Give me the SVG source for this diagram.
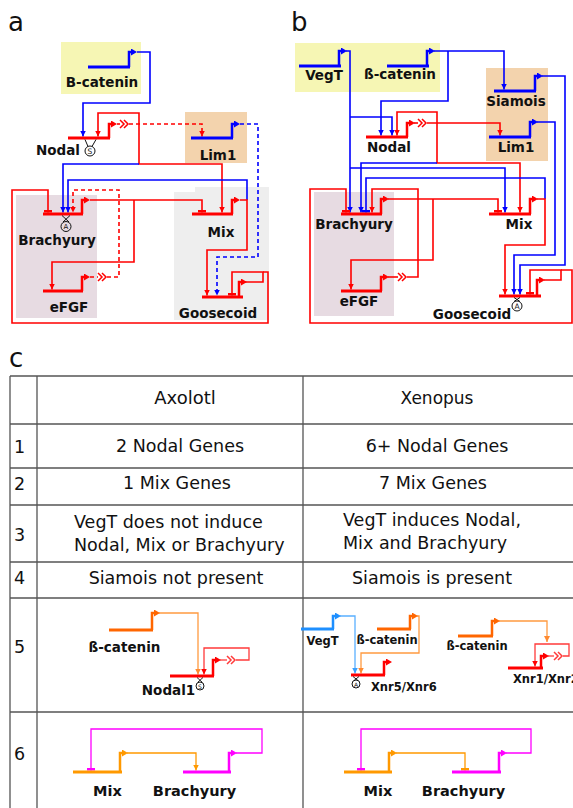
<svg xmlns="http://www.w3.org/2000/svg" width="573" height="808" viewBox="0 0 573 808">
<style>
.bar{fill:none;stroke-width:3}
.pr{fill:none;stroke-width:2.5}
.ln{fill:none;stroke-width:1.6}
.th{fill:none;stroke-width:1.3}
.dash{stroke-dasharray:4 3}
.r{stroke:#ff0000}.b{stroke:#0000ff}.o{stroke:#ff6600}.lo{stroke:#ff9a40}.lb{stroke:#1e8fff}.llb{stroke:#5ab0ff}.y{stroke:#ff9900}.m{stroke:#ff00ff}.lr{stroke:#ff3a3a}
.lbl{font-family:"DejaVu Sans","Liberation Sans",sans-serif;font-weight:bold;font-size:13.5px;text-anchor:middle;fill:#111}
.sm{font-size:11.5px}
.big{font-size:14.5px}
.t{font-family:"DejaVu Sans","Liberation Sans",sans-serif;font-size:17.5px;fill:#111}
.mid{text-anchor:middle}
.pl{font-family:"DejaVu Sans","Liberation Sans",sans-serif;font-size:26px;fill:#111}
.grid{stroke:#555;stroke-width:1.3;fill:none}
.ring{fill:none;stroke:#111;stroke-width:1}
.tiny{font-family:"DejaVu Sans",sans-serif;font-size:7.5px;text-anchor:middle;fill:#111}
.chev{fill:none;stroke-width:1.5}
</style>
<defs>
<marker id="pa-r" viewBox="0 0 6 7" refX="0" refY="3.5" markerWidth="6" markerHeight="7" markerUnits="userSpaceOnUse" orient="auto"><path d="M0,0L6,3.5L0,7z" fill="#ff0000"/></marker>
<marker id="pa-b" viewBox="0 0 6 7" refX="0" refY="3.5" markerWidth="6" markerHeight="7" markerUnits="userSpaceOnUse" orient="auto"><path d="M0,0L6,3.5L0,7z" fill="#0000ff"/></marker>
<marker id="pa-o" viewBox="0 0 6 7" refX="0" refY="3.5" markerWidth="6" markerHeight="7" markerUnits="userSpaceOnUse" orient="auto"><path d="M0,0L6,3.5L0,7z" fill="#ff6600"/></marker>
<marker id="pa-lb" viewBox="0 0 6 7" refX="0" refY="3.5" markerWidth="6" markerHeight="7" markerUnits="userSpaceOnUse" orient="auto"><path d="M0,0L6,3.5L0,7z" fill="#1e8fff"/></marker>
<marker id="pa-y" viewBox="0 0 6 7" refX="0" refY="3.5" markerWidth="6" markerHeight="7" markerUnits="userSpaceOnUse" orient="auto"><path d="M0,0L6,3.5L0,7z" fill="#ff9900"/></marker>
<marker id="pa-m" viewBox="0 0 6 7" refX="0" refY="3.5" markerWidth="6" markerHeight="7" markerUnits="userSpaceOnUse" orient="auto"><path d="M0,0L6,3.5L0,7z" fill="#ff00ff"/></marker>
<marker id="ar-r" viewBox="0 0 6 6" refX="6" refY="3" markerWidth="6" markerHeight="6" markerUnits="userSpaceOnUse" orient="auto-start-reverse"><path d="M0,0L6,3L0,6z" fill="#ff0000"/></marker>
<marker id="ar-b" viewBox="0 0 6 6" refX="6" refY="3" markerWidth="6" markerHeight="6" markerUnits="userSpaceOnUse" orient="auto"><path d="M0,0L6,3L0,6z" fill="#0000ff"/></marker>
<marker id="ar-lo" viewBox="0 0 6 6" refX="6" refY="3" markerWidth="6" markerHeight="6" markerUnits="userSpaceOnUse" orient="auto"><path d="M0,0L6,3L0,6z" fill="#ff8a30"/></marker>
<marker id="ar-lb" viewBox="0 0 6 6" refX="6" refY="3" markerWidth="6" markerHeight="6" markerUnits="userSpaceOnUse" orient="auto"><path d="M0,0L6,3L0,6z" fill="#3aa0ff"/></marker>
<marker id="ar-y" viewBox="0 0 6 6" refX="6" refY="3" markerWidth="6" markerHeight="6" markerUnits="userSpaceOnUse" orient="auto"><path d="M0,0L6,3L0,6z" fill="#ff9900"/></marker>
<marker id="tb-r" viewBox="0 0 3 8" refX="3" refY="4" markerWidth="3" markerHeight="8" markerUnits="userSpaceOnUse" orient="auto"><rect width="3" height="8" fill="#ff0000"/></marker>
<marker id="tb-b" viewBox="0 0 3 8" refX="3" refY="4" markerWidth="3" markerHeight="8" markerUnits="userSpaceOnUse" orient="auto"><rect width="3" height="8" fill="#0000ff"/></marker>
<marker id="tb-y" viewBox="0 0 3 8" refX="3" refY="4" markerWidth="3" markerHeight="8" markerUnits="userSpaceOnUse" orient="auto"><rect width="3" height="8" fill="#ff9900"/></marker>
<marker id="tb-m" viewBox="0 0 3 8" refX="3" refY="4" markerWidth="3" markerHeight="8" markerUnits="userSpaceOnUse" orient="auto"><rect width="3" height="8" fill="#ff00ff"/></marker>
<path id="chv" d="M0,-4L4,0L0,4M4,-4L8,0L4,4"/>
</defs>

<!-- panel letters -->
<text class="pl" x="8" y="31">a</text>
<text class="pl" x="291" y="31">b</text>
<text class="pl" x="9" y="367">c</text>

<!-- backgrounds -->
<g id="bg">
<rect x="61" y="42" width="80" height="52" fill="#f6f6b4"/>
<rect x="185" y="112" width="62" height="51" fill="#f3d3ad"/>
<rect x="174" y="192" width="95" height="128" fill="#eeeeee"/>
<rect x="195" y="187" width="74" height="10" fill="#eeeeee"/>
<rect x="16" y="195" width="81" height="123" fill="#e7dbe2"/>
<rect x="295" y="43" width="145" height="49" fill="#f6f6b4"/>
<rect x="486" y="68" width="62" height="93" fill="#f3d3ad"/>
<rect x="314" y="192" width="80" height="124" fill="#e7dbe2"/>
</g>

<!-- connectors -->
<g id="connectors">
<!-- panel a -->
<path class="ln b" d="M137,52H150V103H83V136.5" marker-end="url(#ar-b)"/>
<path class="ln r" d="M117,124H120"/>
<use href="#chv" class="chev r" x="120" y="124"/>
<path class="ln r dash" d="M129,124H202V136.5" marker-end="url(#ar-r)"/>
<path class="ln r" d="M98,136.5V113H139V164H222V212.5" marker-start="url(#ar-r)" marker-end="url(#ar-r)"/>
<path class="ln b" d="M139,164H63V212.5" marker-end="url(#ar-b)"/>
<path class="ln b" d="M247,200V180H68V212.5" marker-end="url(#ar-b)"/>
<path class="ln b dash" d="M240,124H258V257H217V295.5" marker-end="url(#ar-b)"/>
<path class="ln r" d="M90,200H202V212.5" marker-end="url(#tb-r)"/>
<path class="ln r" d="M134,200V262H52V289.5" marker-end="url(#ar-r)"/>
<path class="ln r" d="M240,200H247V250H207V295.5" marker-end="url(#ar-r)"/>
<path class="ln r dash" d="M90,277H98"/>
<use href="#chv" class="chev r" x="98" y="277"/>
<path class="ln r dash" d="M107,277H119V190H73V212.5" marker-end="url(#ar-r)"/>
<path class="ln r" d="M245,282H263V272H232V295.5" marker-end="url(#tb-r)"/>
<path class="ln r" d="M263,272H268V323H12V190H48V212.5" marker-end="url(#tb-r)"/>
<!-- panel b -->
<path class="ln b" d="M346,51H350V212.5" marker-end="url(#ar-b)"/>
<path class="ln b" d="M350,117H392V135.5" marker-end="url(#ar-b)"/>
<path class="ln b" d="M350,168H505V212.5" marker-end="url(#ar-b)"/>
<path class="ln b" d="M434,51H504V89.5" marker-end="url(#ar-b)"/>
<path class="ln b" d="M448,51V101H381V135.5" marker-end="url(#ar-b)"/>
<path class="ln b" d="M542,76H565V265H520V294.5" marker-end="url(#ar-b)"/>
<path class="ln b" d="M537,122H555V255H514V294.5" marker-end="url(#ar-b)"/>
<path class="ln r" d="M414,123H418"/>
<use href="#chv" class="chev r" x="418" y="123"/>
<path class="ln r" d="M427,123H500V135.5" marker-end="url(#ar-r)"/>
<path class="ln r" d="M397,135.5V112H437V163H520V212.5" marker-start="url(#ar-r)" marker-end="url(#ar-r)"/>
<path class="ln b" d="M437,163H361V212.5" marker-end="url(#ar-b)"/>
<path class="ln b" d="M545,199V178H366V212.5" marker-end="url(#tb-b)"/>
<path class="ln r" d="M388,199H498V212.5" marker-end="url(#tb-r)"/>
<path class="ln r" d="M433,199V260H351V289.5" marker-end="url(#ar-r)"/>
<path class="ln r" d="M388,277H398"/>
<use href="#chv" class="chev r" x="398" y="277"/>
<path class="ln r" d="M407,277H418V189H372V212.5" marker-end="url(#ar-r)"/>
<path class="ln r" d="M537,199H545V245H505V294.5" marker-end="url(#ar-r)"/>
<path class="ln r" d="M544,280H561V270H530V294.5" marker-end="url(#tb-r)"/>
<path class="ln r" d="M561,270H572V323H310V189H346V212.5" marker-end="url(#tb-r)"/>
<!-- row 5 -->
<path class="th lo" d="M159,613H198V674.5" marker-end="url(#ar-lo)"/>
<path class="th lr" d="M220,660H227"/>
<use href="#chv" class="chev lr" x="227" y="660"/>
<path class="th lr" d="M236,660H249V648H204V674.5" marker-end="url(#ar-r)"/>
<path class="th llb" d="M340,616H355V673.5" marker-end="url(#ar-lb)"/>
<path class="th lo" d="M417,616H419V653H361V673.5" marker-end="url(#ar-lo)"/>
<path class="th lo" d="M499,621H547V642" marker-end="url(#ar-lo)"/>
<path class="th lr" d="M548,656H554"/>
<use href="#chv" class="chev lr" x="554" y="656"/>
<path class="th lr" d="M563,656H569V644H535V666.5" marker-end="url(#ar-r)"/>
<!-- row 6 -->
<path class="th y" d="M127,753H196V770.5" marker-end="url(#ar-y)"/>
<path class="th m" d="M236,753H262V729H91V770.5" marker-end="url(#tb-m)"/>
<path class="th y" d="M396,753H465V770.5" marker-end="url(#tb-y)"/>
<path class="th m" d="M506,753H531V729H361V770.5" marker-end="url(#tb-m)"/>
</g>

<!-- panel a nodes -->
<g id="a-bcatenin">
<path class="bar b" d="M88,67H130"/>
<path class="pr b" d="M129,67V52H131" marker-end="url(#pa-b)"/>
<text class="lbl" x="102" y="87">B-catenin</text>
</g>
<g id="a-nodal">
<path class="bar r" d="M68,138H110"/>
<path class="pr r" d="M109,138V124H111" marker-end="url(#pa-r)"/>
<path d="M85,139.5L88,146.5M96,139.5L92,146.5" stroke="#111" stroke-width="1"/>
<circle class="ring" cx="90" cy="151" r="5"/>
<text class="tiny" x="90" y="154">S</text>
<text class="lbl" x="80" y="155" style="text-anchor:end">Nodal</text>
</g>
<g id="a-lim1">
<path class="bar b" d="M191,138H233"/>
<path class="pr b" d="M232,138V124H234" marker-end="url(#pa-b)"/>
<text class="lbl" x="218" y="160">Lim1</text>
</g>
<g id="a-brachyury">
<path class="bar r" d="M43,214H83"/>
<path class="pr r" d="M82,214V200H84" marker-end="url(#pa-r)"/>
<path d="M62,215.5L69,222M70,215.5L63,222" stroke="#111" stroke-width="1"/>
<circle class="ring" cx="66" cy="226.5" r="5"/>
<text class="tiny" x="66" y="229.3" style="font-size:7px">A</text>
<text class="lbl" x="57" y="245">Brachyury</text>
</g>
<g id="a-mix">
<path class="bar r" d="M192,214H233"/>
<path class="pr r" d="M232,214V200H234" marker-end="url(#pa-r)"/>
<text class="lbl" x="221" y="237">Mix</text>
</g>
<g id="a-efgf">
<path class="bar r" d="M43,291H83"/>
<path class="pr r" d="M82,291V277H84" marker-end="url(#pa-r)"/>
<text class="lbl" x="69" y="312">eFGF</text>
</g>
<g id="a-goosecoid">
<path class="bar r" d="M202,297H243"/>
<path class="pr r" d="M239,297V282H241" marker-end="url(#pa-r)"/>
<text class="lbl" x="218" y="318">Goosecoid</text>
</g>

<!-- panel b nodes -->
<g id="b-vegt">
<path class="bar b" d="M299,66H341"/>
<path class="pr b" d="M339,66V51H341" marker-end="url(#pa-b)"/>
<text class="lbl" x="324" y="80">VegT</text>
</g>
<g id="b-bcatenin">
<path class="bar b" d="M387,66H429"/>
<path class="pr b" d="M427,66V51H429" marker-end="url(#pa-b)"/>
<text class="lbl" x="400" y="79">ß-catenin</text>
</g>
<g id="b-siamois">
<path class="bar b" d="M494,91H536"/>
<path class="pr b" d="M535,91V76H537" marker-end="url(#pa-b)"/>
<text class="lbl" x="516" y="106">Siamois</text>
</g>
<g id="b-nodal">
<path class="bar r" d="M366,137H408"/>
<path class="pr r" d="M407,137V123H409" marker-end="url(#pa-r)"/>
<text class="lbl" x="389" y="152">Nodal</text>
</g>
<g id="b-lim1">
<path class="bar b" d="M489,137H531"/>
<path class="pr b" d="M530,137V122H532" marker-end="url(#pa-b)"/>
<text class="lbl" x="516" y="152">Lim1</text>
</g>
<g id="b-brachyury">
<path class="bar r" d="M341,214H382"/>
<path class="pr r" d="M381,214V199H383" marker-end="url(#pa-r)"/>
<text class="lbl" x="354" y="229">Brachyury</text>
</g>
<g id="b-mix">
<path class="bar r" d="M489,214H531"/>
<path class="pr r" d="M530,214V199H532" marker-end="url(#pa-r)"/>
<text class="lbl" x="519" y="229">Mix</text>
</g>
<g id="b-efgf">
<path class="bar r" d="M341,291H382"/>
<path class="pr r" d="M381,291V277H383" marker-end="url(#pa-r)"/>
<text class="lbl" x="359" y="306">eFGF</text>
</g>
<g id="b-goosecoid">
<path class="bar r" d="M499,296H541"/>
<path class="pr r" d="M537,296V280H539" marker-end="url(#pa-r)"/>
<path d="M514,297.5L520,301.5M520,297.5L514,301.5" stroke="#111" stroke-width="1"/>
<circle class="ring" cx="517" cy="306" r="5"/>
<text class="tiny" x="517" y="309">A</text>
<text class="lbl" x="472" y="319">Goosecoid</text>
</g>

<!-- table -->
<g id="table">
<path class="grid" d="M10,376V808M37,376V808M303,376V808M10,376H573M10,424H573M10,468H573M10,505H573M10,562H573M10,598H573M10,712H573"/>
<text class="t mid" x="185" y="404" style="font-size:18px">Axolotl</text>
<text class="t mid" x="437" y="404" style="font-size:17px">Xenopus</text>
<text class="t" x="14" y="453">1</text>
<text class="t mid" x="180" y="452">2 Nodal Genes</text>
<text class="t mid" x="437" y="452">6+ Nodal Genes</text>
<text class="t" x="14" y="490">2</text>
<text class="t mid" x="177" y="489">1 Mix Genes</text>
<text class="t mid" x="433" y="489">7 Mix Genes</text>
<text class="t" x="14" y="541">3</text>
<text class="t" x="74" y="528">VegT does not induce</text>
<text class="t" x="74" y="551">Nodal, Mix or Brachyury</text>
<text class="t" x="343" y="526">VegT induces Nodal,</text>
<text class="t" x="343" y="549">Mix and Brachyury</text>
<text class="t" x="14" y="584">4</text>
<text class="t mid" x="176" y="584">Siamois not present</text>
<text class="t mid" x="432" y="584">Siamois is present</text>
<text class="t" x="14" y="653">5</text>
<text class="t" x="14" y="760">6</text>
</g>

<!-- row 5 nodes -->
<g id="r5-bcatenin">
<path class="bar o" d="M109,630H153"/>
<path class="pr o" d="M152,630V613H154" marker-end="url(#pa-o)"/>
<text class="lbl" x="124.5" y="652">ß-catenin</text>
</g>
<g id="r5-nodal1">
<path class="bar r" d="M170,676H214"/>
<path class="pr r" d="M213,676V660H215" marker-end="url(#pa-r)"/>
<path d="M197,677.5L202,682M203,677.5L198,682" stroke="#111" stroke-width="0.9"/>
<circle class="ring" cx="200" cy="686" r="4"/>
<text class="tiny" x="200" y="688.5" style="font-size:6px">S</text>
<text class="lbl" x="168.5" y="695">Nodal1</text>
</g>
<g id="r5-vegt">
<path class="bar lb" d="M301,629H334"/>
<path class="pr lb" d="M333,629V616H335" marker-end="url(#pa-lb)"/>
<text class="lbl sm" x="322.5" y="645">VegT</text>
</g>
<g id="r5-bcatenin2">
<path class="bar o" d="M377,629H411"/>
<path class="pr o" d="M410,629V616H412" marker-end="url(#pa-o)"/>
<text class="lbl sm" x="387" y="644">ß-catenin</text>
</g>
<g id="r5-xnr56">
<path class="bar r" d="M351,675H385"/>
<path class="pr r" d="M384,675V662H386" marker-end="url(#pa-r)"/>
<path d="M353,676.5L358,680.5M359,676.5L354,680.5" stroke="#111" stroke-width="0.9"/>
<circle class="ring" cx="356" cy="684" r="4"/>
<text class="tiny" x="356" y="686.5" style="font-size:6px">A</text>
<text class="lbl sm" x="371" y="691" style="text-anchor:start">Xnr5/Xnr6</text>
</g>
<g id="r5-bcatenin3">
<path class="bar o" d="M458,636H493"/>
<path class="pr o" d="M492,636V621H494" marker-end="url(#pa-o)"/>
<text class="lbl sm" x="477" y="650">ß-catenin</text>
</g>
<g id="r5-xnr12">
<path class="bar r" d="M508,668H543"/>
<path class="pr r" d="M541,668V656H543" marker-end="url(#pa-r)"/>
<text class="lbl sm" x="513" y="683" style="text-anchor:start">Xnr1/Xnr2</text>
</g>

<!-- row 6 nodes -->
<g id="r6-mix-a">
<path class="bar y" d="M73,772H122"/>
<path class="pr y" d="M120,772V753H122" marker-end="url(#pa-y)"/>
<text class="lbl big" x="107.5" y="796">Mix</text>
</g>
<g id="r6-bra-a">
<path class="bar m" d="M183,772H231"/>
<path class="pr m" d="M229,772V753H231" marker-end="url(#pa-m)"/>
<text class="lbl big" x="194.5" y="796">Brachyury</text>
</g>
<g id="r6-mix-x">
<path class="bar y" d="M344,772H392"/>
<path class="pr y" d="M389,772V753H391" marker-end="url(#pa-y)"/>
<text class="lbl big" x="378" y="796">Mix</text>
</g>
<g id="r6-bra-x">
<path class="bar m" d="M452,772H501"/>
<path class="pr m" d="M499,772V753H501" marker-end="url(#pa-m)"/>
<text class="lbl big" x="463.5" y="796">Brachyury</text>
</g>
</svg>
